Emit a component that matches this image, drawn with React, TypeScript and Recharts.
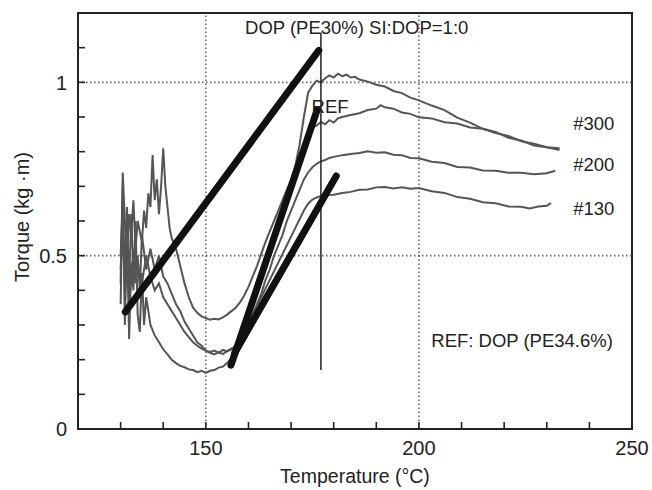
import React from 'react';
import {
  LineChart, Line, XAxis, YAxis, ReferenceLine, ReferenceArea, ReferenceDot,
} from 'recharts';

// ---- axis ticks ----
const xTicks = [130, 140, 150, 160, 170, 180, 190, 200, 210, 220, 230, 240, 250];
const xTickLabels = [150, 200, 250];
const yTicks = [0, 0.1, 0.2, 0.3, 0.4, 0.5, 0.6, 0.7, 0.8, 0.9, 1, 1.1, 1.2];
const yTickLabels = [0, 0.5, 1];

// ---- curve: DOP (top) ----
const dopTemp = [130, 130.5, 131, 131.5, 132, 132.5, 133, 133.5, 134, 135, 135.5, 136, 136.5, 137, 137.5, 138, 138.5, 139, 139.5, 140, 140.5, 141, 141.5, 142, 143, 144, 145, 146, 147, 148, 149, 150, 151, 152, 153, 154, 155, 156, 157, 158, 159, 160, 161, 162, 163, 164, 165, 166, 167, 168, 169, 170, 171, 172, 173, 174, 175, 176, 177, 178, 179, 180, 181, 182, 183, 184, 185, 186, 188, 190, 192, 194, 196, 198, 200, 203, 206, 209, 212, 215, 218, 221, 224, 227, 230, 233];
const dopTorque = [0.42, 0.74, 0.6, 0.5, 0.62, 0.56, 0.66, 0.52, 0.6, 0.54, 0.63, 0.58, 0.68, 0.64, 0.79, 0.66, 0.72, 0.62, 0.7, 0.81, 0.7, 0.64, 0.58, 0.55, 0.52, 0.47, 0.42, 0.38, 0.35, 0.335, 0.325, 0.32, 0.315, 0.318, 0.316, 0.322, 0.33, 0.34, 0.35, 0.365, 0.385, 0.41, 0.44, 0.47, 0.505, 0.54, 0.57, 0.6, 0.63, 0.66, 0.69, 0.72, 0.76, 0.82, 0.9, 0.97, 0.99, 1.005, 1.0, 1.012, 1.02, 1.014, 1.025, 1.018, 1.022, 1.014, 1.016, 1.008, 1.002, 0.993, 0.988, 0.975, 0.969, 0.956, 0.948, 0.933, 0.92, 0.898, 0.884, 0.866, 0.857, 0.84, 0.832, 0.818, 0.813, 0.805];

// ---- curve: REF ----
const refTemp = [130, 130.5, 131, 131.5, 132, 132.5, 133, 134, 134.5, 135, 136, 137, 138, 139, 140, 141, 142, 143, 144, 145, 146, 147, 148, 149, 150, 151, 152, 153, 154, 155, 156, 157, 158, 159, 160, 161, 162, 163, 164, 165, 166, 167, 168, 169, 170, 171, 172, 173, 174, 175, 176, 177, 178, 179, 180, 181, 182, 184, 186, 188, 190, 191, 192, 194, 196, 198, 200, 203, 206, 209, 212, 215, 218, 221, 224, 227, 230, 233];
const refTorque = [0.5, 0.65, 0.38, 0.55, 0.42, 0.62, 0.45, 0.5, 0.4, 0.56, 0.46, 0.52, 0.46, 0.5, 0.44, 0.42, 0.39, 0.36, 0.34, 0.31, 0.29, 0.27, 0.25, 0.24, 0.225, 0.22, 0.215, 0.222, 0.216, 0.225, 0.23, 0.24, 0.26, 0.29, 0.32, 0.36, 0.4, 0.44, 0.48, 0.52, 0.56, 0.6, 0.64, 0.68, 0.71, 0.75, 0.79, 0.82, 0.85, 0.87, 0.875, 0.886, 0.879, 0.891, 0.884, 0.896, 0.9, 0.906, 0.911, 0.92, 0.924, 0.934, 0.928, 0.924, 0.913, 0.909, 0.899, 0.896, 0.885, 0.881, 0.87, 0.866, 0.854, 0.845, 0.83, 0.823, 0.813, 0.81];

// ---- curve: #200 ----
const s200Temp = [130, 130.5, 131, 131.5, 132, 133, 133.5, 134, 135, 136, 137, 138, 139, 140, 141, 142, 143, 144, 145, 146, 147, 148, 149, 150, 151, 152, 153, 154, 155, 156, 157, 158, 159, 160, 161, 162, 163, 164, 165, 166, 167, 168, 169, 170, 171, 172, 173, 174, 175, 176, 177, 178, 179, 180, 182, 184, 186, 188, 190, 192, 194, 196, 198, 200, 203, 206, 209, 212, 215, 218, 221, 224, 227, 230, 232];
const s200Torque = [0.46, 0.6, 0.44, 0.64, 0.36, 0.52, 0.42, 0.48, 0.42, 0.5, 0.44, 0.4, 0.42, 0.38, 0.36, 0.34, 0.32, 0.3, 0.28, 0.265, 0.25, 0.24, 0.232, 0.226, 0.222, 0.226, 0.22, 0.228, 0.224, 0.232, 0.238, 0.25, 0.27, 0.3, 0.33, 0.36, 0.39, 0.43, 0.46, 0.5, 0.53, 0.56, 0.6, 0.63, 0.66, 0.69, 0.72, 0.74, 0.755, 0.765, 0.772, 0.776, 0.782, 0.785, 0.79, 0.793, 0.796, 0.801, 0.797, 0.798, 0.791, 0.79, 0.782, 0.781, 0.771, 0.767, 0.756, 0.754, 0.746, 0.745, 0.739, 0.739, 0.735, 0.738, 0.745];

// ---- curve: #130 ----
const s130Temp = [130, 130.5, 131, 131.5, 132, 132.5, 133, 133.5, 134, 134.5, 135, 135.5, 136, 137, 138, 139, 140, 141, 142, 143, 144, 145, 146, 147, 148, 149, 150, 151, 152, 153, 154, 155, 156, 157, 158, 159, 160, 161, 162, 163, 164, 165, 166, 167, 168, 169, 170, 171, 172, 173, 174, 175, 176, 177, 178, 180, 182, 184, 186, 188, 190, 192, 194, 196, 198, 200, 203, 206, 209, 212, 215, 218, 221, 224, 226, 228, 230, 231];
const s130Torque = [0.36, 0.7, 0.3, 0.55, 0.26, 0.48, 0.4, 0.6, 0.33, 0.28, 0.45, 0.3, 0.38, 0.3, 0.27, 0.25, 0.23, 0.215, 0.2, 0.19, 0.182, 0.178, 0.172, 0.17, 0.164, 0.168, 0.162, 0.168, 0.17, 0.177, 0.18, 0.19, 0.205, 0.225, 0.25, 0.275, 0.3, 0.33, 0.355, 0.38, 0.405, 0.43, 0.455, 0.48, 0.505, 0.53, 0.555, 0.58, 0.605, 0.63, 0.65, 0.662, 0.668, 0.672, 0.675, 0.676, 0.681, 0.684, 0.69, 0.691, 0.697, 0.698, 0.694, 0.697, 0.693, 0.695, 0.686, 0.681, 0.669, 0.664, 0.654, 0.651, 0.642, 0.641, 0.636, 0.642, 0.644, 0.652];

// ---- fitted straight lines (thick) and marker ----
const fit1Temp = [131.1, 176.5];
const fit1Torque = [0.338, 1.092];
const fit2Temp = [155.9, 176.1];
const fit2Torque = [0.184, 0.92];
const fit3Temp = [156.8, 180.6];
const fit3Torque = [0.22, 0.73];
const markerTemp = [177, 177];
const markerTorque = [0.17, 1.144];

// ---- annotation texts ----
const annotations = [
  { text: 'DOP (PE30%) SI:DOP=1:0', t: 159.2, v: 1.158 },
  { text: 'REF', t: 174.8, v: 0.93 },
  { text: '#300', t: 236.2, v: 0.882 },
  { text: '#200', t: 236.2, v: 0.764 },
  { text: '#130', t: 236.2, v: 0.637 },
  { text: 'REF: DOP (PE34.6%)', t: 202.9, v: 0.256 },
];

const zip = (ts: number[], vs: number[]) => ts.map((t, i) => ({ t, v: vs[i] }));

const FONT = '"Liberation Sans", Arial, Helvetica, sans-serif';
const INK = '#222';
const CURVE = '#555';
const X_MARGIN = 12;
const Y_MARGIN = 11;
const TICK_LEN = 7;

const XTick = (props: any) => {
  const { x, y, payload } = props;
  const label = xTickLabels.includes(payload.value) ? String(payload.value) : '';
  const axisY = y - X_MARGIN;
  return (
    <g>
      <line x1={x} x2={x} y1={axisY} y2={axisY - TICK_LEN} stroke={INK} strokeWidth={1.6} />
      <text x={x} y={y} dy="0.71em" textAnchor="middle" fill={INK} fontSize={20} fontFamily={FONT}>
        {label}
      </text>
    </g>
  );
};

const YTick = (props: any) => {
  const { x, y, payload } = props;
  const label = yTickLabels.includes(payload.value) ? String(payload.value) : '';
  const axisX = x + Y_MARGIN;
  return (
    <g>
      <line x1={axisX} x2={axisX + TICK_LEN} y1={y} y2={y} stroke={INK} strokeWidth={1.6} />
      <text x={x} y={y} dy="0.36em" textAnchor="end" fill={INK} fontSize={20} fontFamily={FONT}>
        {label}
      </text>
    </g>
  );
};

export default function App() {
  const curves = [
    zip(dopTemp, dopTorque),
    zip(refTemp, refTorque),
    zip(s200Temp, s200Torque),
    zip(s130Temp, s130Torque),
  ];
  const fits = [zip(fit1Temp, fit1Torque), zip(fit2Temp, fit2Torque), zip(fit3Temp, fit3Torque)];
  return (
    <div style={{ position: 'absolute', left: 0, top: 0, width: 652, height: 490, background: '#fff' }}>
      <LineChart
        width={652}
        height={490}
        margin={{ top: 13, right: 20, left: 0, bottom: 0 }}
        style={{ fontFamily: FONT }}
      >
        <ReferenceArea x1={120} x2={250} y1={0} y2={1.2} fill="none" stroke={INK} strokeWidth={2} />
        <ReferenceLine x={150} stroke="#666" strokeWidth={1.6} strokeDasharray="1.5 2.5" />
        <ReferenceLine x={200} stroke="#666" strokeWidth={1.6} strokeDasharray="1.5 2.5" />
        <ReferenceLine y={0.5} stroke="#666" strokeWidth={1.6} strokeDasharray="1.5 2.5" />
        <ReferenceLine y={1} stroke="#666" strokeWidth={1.6} strokeDasharray="1.5 2.5" />
        <XAxis
          dataKey="t"
          type="number"
          domain={[120, 250]}
          ticks={xTicks}
          allowDataOverflow
          interval={0}
          height={61}
          tickSize={0}
          tickMargin={X_MARGIN}
          axisLine={{ stroke: INK, strokeWidth: 2 }}
          tickLine={false}
          tick={<XTick />}
          label={{ value: 'Temperature (°C)', position: 'center', dy: 17, fill: INK, fontSize: 19.5, fontFamily: FONT }}
        />
        <YAxis
          type="number"
          domain={[0, 1.2]}
          ticks={yTicks}
          allowDataOverflow
          interval={0}
          width={78}
          tickSize={0}
          tickMargin={Y_MARGIN}
          axisLine={{ stroke: INK, strokeWidth: 2 }}
          tickLine={false}
          tick={<YTick />}
          label={{ value: 'Torque (kg ·m)', angle: -90, position: 'center', dx: -17, dy: -4, fill: INK, fontSize: 20, fontFamily: FONT }}
        />
        {curves.map((d, i) => (
          <Line
            key={'c' + i}
            data={d}
            dataKey="v"
            type="linear"
            stroke={CURVE}
            strokeWidth={2}
            dot={false}
            activeDot={false}
            isAnimationActive={false}
          />
        ))}
        <Line
          data={zip(markerTemp, markerTorque)}
          dataKey="v"
          type="linear"
          stroke={INK}
          strokeWidth={1.5}
          dot={false}
          activeDot={false}
          isAnimationActive={false}
        />
        {fits.map((d, i) => (
          <Line
            key={'f' + i}
            data={d}
            dataKey="v"
            type="linear"
            stroke="#111"
            strokeWidth={7}
            strokeLinecap="round"
            dot={false}
            activeDot={false}
            isAnimationActive={false}
          />
        ))}
        {annotations.map((a, i) => (
          <ReferenceDot
            key={'a' + i}
            x={a.t}
            y={a.v}
            r={0}
            fill="none"
            stroke="none"
            label={{ value: a.text, position: 'right', offset: 0, fill: INK, fontSize: 18.5, fontFamily: FONT }}
          />
        ))}
      </LineChart>
    </div>
  );
}
